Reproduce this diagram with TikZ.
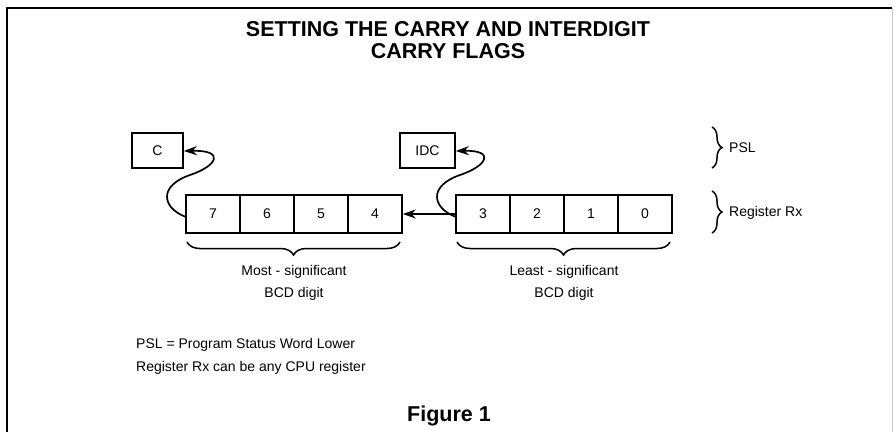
\documentclass[tikz,border=0pt]{standalone}
\usepackage{fontspec}
\setmainfont{Liberation Sans}
\usetikzlibrary{arrows.meta,decorations.pathreplacing}
\begin{document}
\begin{tikzpicture}[x=1pt,y=-1pt,
  cell/.style={draw,line width=1.6pt,minimum width=54pt,minimum height=38pt,inner sep=0pt,font=\fontsize{14}{16}\selectfont},
  flag/.style={draw,line width=1.6pt,minimum height=35pt,inner sep=0pt,font=\fontsize{14}{16}\selectfont},
  lbl/.style={font=\fontsize{14}{16}\selectfont,inner sep=0pt},
  ttl/.style={font=\bfseries\fontsize{21.5}{24}\selectfont,inner sep=0pt},
  brc/.style={decorate,decoration={brace,amplitude=13pt},line width=1.5pt},
  arr/.style={-{Stealth[length=13pt,width=9pt]},line width=1.7pt}]
\useasboundingbox (0,0) rectangle (896,432);
% frame
\draw[line width=1.6pt] (7,432) -- (7,8) -- (892,8);
\draw[line width=0.8pt,black!20] (892,8) -- (892,432);
% title
\node[ttl] (t1) at (448,29) {SETTING THE CARRY AND INTERDIGIT};
\node[ttl] (t2) at (448,51) {CARRY FLAGS};
% flags
\node[flag,minimum width=51pt] (C) at (157.5,150.5) {C};
\node[flag,minimum width=55pt] (IDC) at (427.5,150.5) {IDC};
% registers
\foreach \d/\x in {7/213,6/267,5/321,4/375,3/483,2/537,1/591,0/645}
  \node[cell] (c\d) at (\x,214) {\d};
% arrows
\draw[arr] (c3.west) -- (c4.east);
\coordinate (s7) at (186,217);
\coordinate (s3) at (456,217);
\draw[arr] (s7) .. controls (162,208) and (158,186) .. (190,175)
  .. controls (217,166) and (226,150) .. (C.east |- 0,151);
\draw[arr] (s3) .. controls (432,208) and (428,186) .. (460,175)
  .. controls (487,166) and (496,150) .. (IDC.east |- 0,151);
% under braces
\draw[brc] (400,242) -- (187,242) coordinate[midway] (bl);
\draw[brc] (670,242) -- (457,242) coordinate[midway] (br);
\node[lbl] (m1) at (294,272) {Most - significant};
\node[lbl] (m2) at (294,294) {BCD digit};
\node[lbl] (l1) at (564,272) {Least - significant};
\node[lbl] (l2) at (564,294) {BCD digit};
% side braces
\draw[brc,decoration={brace,amplitude=10pt}] (712,127) -- (712,168);
\draw[brc,decoration={brace,amplitude=10pt}] (712,191) -- (712,233);
\node[lbl,anchor=west] (psl) at (729,148) {PSL};
\node[lbl,anchor=west] (rx) at (729,213) {Register Rx};
% notes
\node[lbl,anchor=west] (n1) at (136,345) {PSL = Program Status Word Lower};
\node[lbl,anchor=west] (n2) at (136,368) {Register Rx can be any CPU register};
% caption
\node[ttl] (fig) at (449,416) {Figure 1};
\end{tikzpicture}
\end{document}
